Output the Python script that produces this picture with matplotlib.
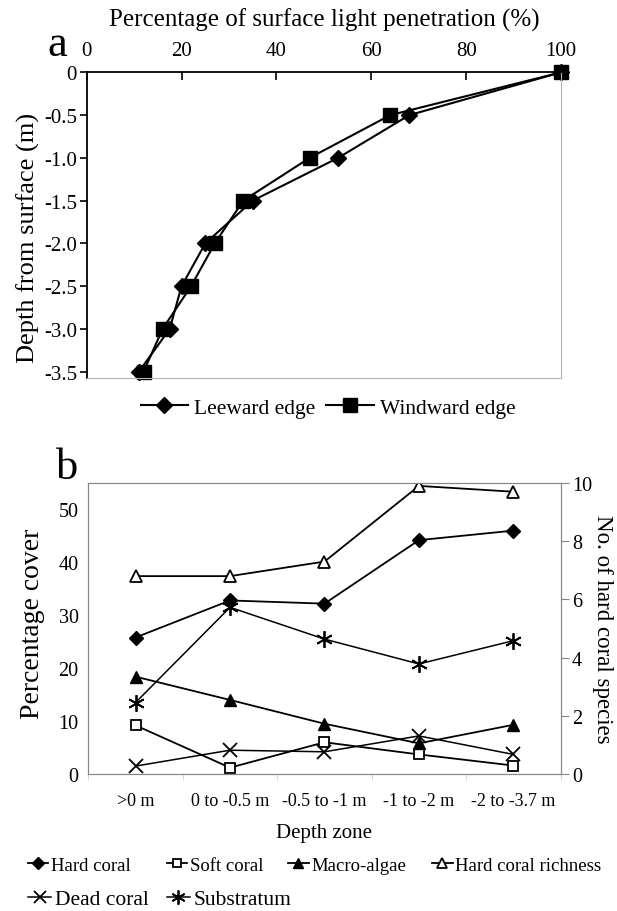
import numpy as np
import matplotlib
matplotlib.use("Agg")
import matplotlib.pyplot as plt

plt.rcParams["font.family"] = ["Liberation Serif", "DejaVu Serif"]

# (a) light penetration profile
depth = [0, -0.5, -1.0, -1.5, -2.0, -2.5, -3.0, -3.5]
leeward = [100, 68, 53, 35, 25, 20, 17.5, 11]
windward = [100, 64, 47, 33, 27, 22, 16, 12]

# (b) benthic cover by depth zone
zones = [">0 m", "0 to -0.5 m", "-0.5 to -1 m", "-1 to -2 m", "-2 to -3.7 m"]
hard_coral = [25.8, 32.8, 32.2, 44.2, 46.0]
soft_coral = [9.2, 1.2, 6.0, 3.7, 1.6]
macro_algae = [18.4, 14.0, 9.5, 5.8, 9.3]
dead_coral = [1.5, 4.5, 4.2, 7.2, 3.7]
substratum = [13.5, 31.5, 25.5, 20.8, 25.2]
richness = [6.8, 6.8, 7.3, 9.9, 9.7]

grey = "#8c8580"

fig = plt.figure(figsize=(6.17, 9.12), dpi=100)

# ---- panel a ----
ax = fig.add_axes([0.1405, 0.5848, 0.769, 0.3348])
ax.plot(leeward, depth, color="black", lw=1.5, marker="D", ms=8.5, clip_on=False,
        label="Leeward edge")
ax.plot(windward, depth, color="black", lw=1.5, marker="s", ms=10, clip_on=False,
        label="Windward edge")
ax.set_xlim(0, 100)
ax.set_ylim(-3.57, 0)
ax.set_xticks([0, 20, 40, 60, 80, 100])
ax.set_yticks(depth)
ax.set_yticklabels(["0", "-0.5", "-1.0", "-1.5", "-2.0", "-2.5", "-3.0", "-3.5"])
ax.xaxis.tick_top()
ax.xaxis.set_label_position("top")
ax.tick_params(axis="x", direction="in", length=6, width=1.2, labelsize=15, pad=9)
ax.tick_params(axis="y", direction="out", length=5, width=1.2, labelsize=15, pad=2)
ax.set_xlabel("Percentage of surface light penetration (%)", fontsize=18, labelpad=11)
ax.set_ylabel("Depth from surface (m)", fontsize=19)
ax.yaxis.set_label_coords(-0.098, 0.46)
for side in ["right", "bottom"]:
    ax.spines[side].set_color("#b5b5b5")
ax.spines["top"].set_linewidth(1.3)
ax.spines["left"].set_linewidth(1.3)
fig.text(0.092, 0.951, "a", fontsize=32, ha="center", va="center")
fig.legend(loc="center", bbox_to_anchor=(0.532, 0.552), ncol=2, frameon=False,
           fontsize=15.5, handlelength=2.2, handletextpad=0.3, columnspacing=0.5,
           handles=ax.get_lines())

# ---- panel b ----
bx = fig.add_axes([0.1431, 0.1502, 0.7656, 0.3191])
x = np.arange(len(zones))
hc, = bx.plot(x, hard_coral, color="black", lw=1.3, marker="D", ms=7.5, label="Hard coral")
sc, = bx.plot(x, soft_coral, color="black", lw=1.3, marker="s", ms=7.5,
              mfc="white", mew=1.3, label="Soft coral")
ma, = bx.plot(x, macro_algae, color="black", lw=1.3, marker="^", ms=8.5, label="Macro-algae")
dc, = bx.plot(x, dead_coral, color="black", lw=1.1, marker="x", ms=10.5, mew=1.3,
              label="Dead coral")
su, = bx.plot(x, substratum, color="black", lw=1.1, marker=(6, 2, 0), ms=12, mew=1.3,
              label="Substratum")
bx.set_xlim(-0.5, 4.5)
bx.set_ylim(0, 55)
bx.set_yticks([0, 10, 20, 30, 40, 50])
bx.set_xticks(x)
bx.set_xticklabels(zones)
bx.set_xticks(np.arange(-0.5, 5, 1), minor=True)
bx.tick_params(axis="x", which="major", length=0, labelsize=13, pad=13)
bx.tick_params(axis="x", which="minor", length=4, color="#d0d0d0", direction="out")
bx.tick_params(axis="y", length=0, labelsize=14.5, pad=7)
bx.set_xlabel("Depth zone", fontsize=15, labelpad=10)
bx.set_ylabel("Percentage cover", fontsize=20)
bx.yaxis.set_label_coords(-0.092, 0.52)
for s in bx.spines.values():
    s.set_color(grey)

rx = bx.twinx()
hr, = rx.plot(x, richness, color="black", lw=1.3, marker="^", ms=8.5,
              mfc="white", mew=1.3, label="Hard coral richness")
rx.set_ylim(0, 10)
rx.set_yticks([0, 2, 4, 6, 8, 10])
rx.tick_params(axis="y", length=6, color=grey, labelsize=14.5, pad=2)
rx.set_ylabel("No. of hard coral species", fontsize=16.5, rotation=270, labelpad=15)
for s in rx.spines.values():
    s.set_color(grey)
fig.text(0.108, 0.487, "b", fontsize=32, ha="center", va="center")

# legend entries placed one by one under panel b
entries = [
    (hc, 0.045, 0.050, 13.5),
    (sc, 0.270, 0.050, 13.5),
    (ma, 0.467, 0.050, 13.5),
    (hr, 0.700, 0.050, 13.5),
    (dc, 0.045, 0.013, 15.5),
    (su, 0.270, 0.013, 15.5),
]
for h, ex, ey, fs in entries:
    fig.legend(handles=[h], loc="center left", bbox_to_anchor=(ex, ey), frameon=False,
               fontsize=fs, handlelength=1.1, handletextpad=0.15, borderpad=0,
               borderaxespad=0, markerscale=0.85)

fig.savefig("out.png", dpi=100)
